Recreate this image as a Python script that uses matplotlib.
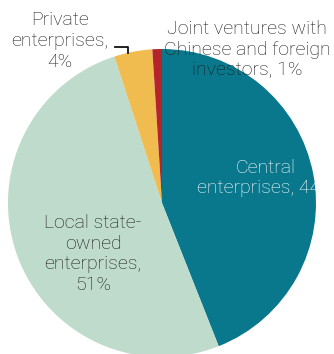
import matplotlib.pyplot as plt

# 企业类型占比
labels = ['Central\nenterprises, 44%',
          'Local state-\nowned\nenterprises,\n51%',
          'Private\nenterprises,\n4%',
          'Joint ventures with\nChinese and foreign\ninvestors, 1%']
shares = [44, 51, 4, 1]
colors = ['#0a788c', '#bedbcc', '#f0bc50', '#b5232b']

W, H = 334, 354
fig = plt.figure(figsize=(W / 100, H / 100), dpi=100)
ax = fig.add_axes([0, 0, 1, 1])

ax.pie(shares, colors=colors, startangle=90, counterclock=False,
       center=(162, H - 203), radius=154, frame=True,
       wedgeprops={'linewidth': 0})
ax.set_xlim(0, W)
ax.set_ylim(0, H)
ax.axis('off')

font = dict(family=['Roboto', 'DejaVu Sans'], weight='light', fontsize=14,
            ha='center', va='center', linespacing=1.18)

# 标签位置（像素，自上而下）
ax.text(266, H - 178, labels[0], color='white', **font)
ax.text(93, H - 254, labels[1], color='#1a1a1a', **font)
ax.text(60, H - 41, labels[2], color='#1a1a1a', **font)
ax.text(247, H - 50, labels[3], color='#1a1a1a', **font)

# 私营企业引线
ax.plot([115, 128, 128], [H - 47, H - 47, H - 53], color='#111111', lw=1.3)

fig.savefig('out.png', dpi=100)
